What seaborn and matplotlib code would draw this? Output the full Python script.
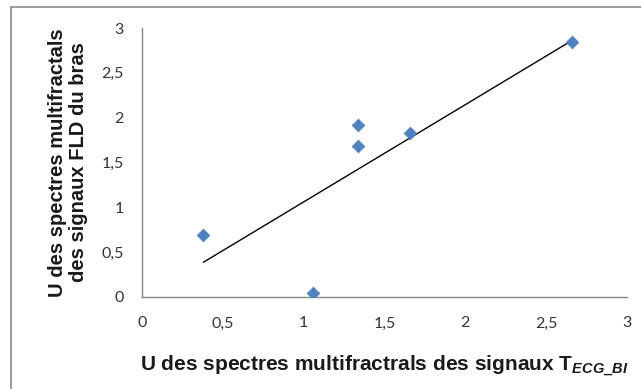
import matplotlib
matplotlib.use("Agg")
import matplotlib.pyplot as plt
from matplotlib.lines import Line2D
import seaborn as sns
import pandas as pd

# U values of the multifractal spectra
u_tecg = [0.38, 1.06, 1.336, 1.336, 1.66, 2.66]
u_fld = [0.69, 0.04, 1.92, 1.68, 1.83, 2.84]
ticks = [0, 0.5, 1, 1.5, 2, 2.5, 3]
tick_labels = ["0", "0,5", "1", "1,5", "2", "2,5", "3"]

df = pd.DataFrame({"x": u_tecg, "y": u_fld})

sns.set_style("white")
plt.rcParams["font.family"] = ["Liberation Sans", "DejaVu Sans"]
plt.rcParams["mathtext.fontset"] = "custom"
plt.rcParams["mathtext.it"] = "Liberation Sans:italic:bold"
plt.rcParams["mathtext.rm"] = "Liberation Sans:bold"
plt.rcParams["mathtext.bf"] = "Liberation Sans:bold"

fig = plt.figure(figsize=(6.41, 3.89), dpi=100)
ax = fig.add_axes([142 / 641, 1 - 297 / 389, (627 - 142) / 641, (297 - 28) / 389])

# linear trend line over the data range
sns.regplot(data=df, x="x", y="y", ax=ax, scatter=False, ci=None, truncate=True,
            line_kws=dict(color="black", lw=1.0))
sns.scatterplot(data=df, x="x", y="y", ax=ax, marker="D", s=42,
                color="#4F81BD", edgecolor="#4F81BD", linewidth=0.5, zorder=3)

ax.set_xlim(0, 3)
ax.set_ylim(0, 3)
ax.set_xticks(ticks)
ax.set_xticklabels(tick_labels)
ax.set_yticks(ticks)
ax.set_yticklabels(tick_labels)
for lab in ax.get_xticklabels() + ax.get_yticklabels():
    lab.set_fontfamily(["Lato", "DejaVu Sans"])
    lab.set_fontsize(11.5)
    lab.set_color("#333333")
ax.tick_params(axis="x", length=0, pad=14)
ax.tick_params(axis="y", length=0, pad=13)

for side in ["top", "right"]:
    ax.spines[side].set_visible(False)
for side in ["left", "bottom"]:
    ax.spines[side].set_color("#868686")
    ax.spines[side].set_linewidth(1.0)

ax.set_xlabel(r"U des spectres multifractrals des signaux T$_{ECG\_BI}$",
              fontsize=15, fontweight="bold", color="#1a1a1a", va="center")
ax.xaxis.set_label_coords(0.5, -0.255)
ax.set_ylabel("U des spectres multifractals\ndes signaux FLD du bras",
              fontsize=14.5, fontweight="bold", color="#1a1a1a", va="center",
              linespacing=1.12)
ax.yaxis.set_label_coords(-0.153, 0.5)

# chart area frame
fig.add_artist(Line2D([11 / 641, 1.0], [1 - 7 / 389, 1 - 7 / 389],
                      color="#8a8a8a", lw=1.2, transform=fig.transFigure))
fig.add_artist(Line2D([11 / 641, 11 / 641], [0.0, 1 - 7 / 389],
                      color="#8a8a8a", lw=1.2, transform=fig.transFigure))

fig.savefig("out.png", dpi=100)
